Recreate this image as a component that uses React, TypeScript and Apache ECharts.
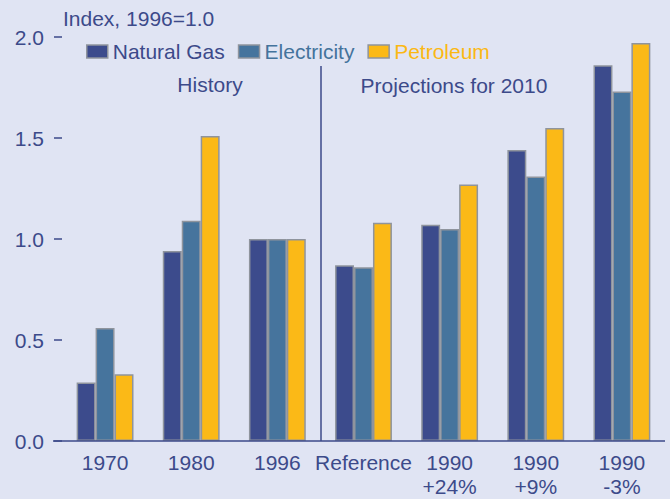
import React, { useEffect, useRef } from "react";
import * as echarts from "echarts";

const categories = ["1970", "1980", "1996", "Reference", "1990\n+24%", "1990\n+9%", "1990\n-3%"];
const naturalGas = [0.29, 0.94, 1.0, 0.87, 1.07, 1.44, 1.86];
const electricity = [0.56, 1.09, 1.0, 0.86, 1.05, 1.31, 1.73];
const petroleum = [0.33, 1.51, 1.0, 1.08, 1.27, 1.55, 1.97];
const seriesNames = ["Natural Gas", "Electricity", "Petroleum"];
const seriesColors = ["#3c4b8c", "#46749d", "#fbb917"];
const legendTextColors = ["#3c4a8a", "#44739c", "#fbb814"];

const NAVY = "#3c4a8a";
const BG = "#e0e4f3";
const BORDER = "#8f949d";
const FONT = "'Liberation Sans', Arial, sans-serif";

export default function App() {
  const ref = useRef<HTMLDivElement>(null);
  useEffect(() => {
    if (!ref.current) return;
    const chart = echarts.init(ref.current, null, { renderer: "svg" });
    const values = [naturalGas, electricity, petroleum];
    chart.setOption({
      animation: false,
      backgroundColor: BG,
      textStyle: { fontFamily: FONT },
      grid: { left: 62, right: 5, top: 37, bottom: 58, containLabel: false, outerBoundsMode: "none" },
      legend: {
        left: 86,
        top: 41,
        padding: 0,
        itemWidth: 21,
        itemHeight: 13,
        itemGap: 13,
        icon: "rect",
        selectedMode: false,
        data: seriesNames.map((n, i) => ({
          name: n,
          textStyle: { color: legendTextColors[i], fontSize: 21, fontFamily: FONT },
          itemStyle: { color: seriesColors[i], borderColor: BORDER, borderWidth: 1.5 },
        })),
      },
      xAxis: {
        type: "category",
        data: categories,
        axisLine: { show: false },
        axisTick: { show: false },
        axisLabel: {
          color: NAVY,
          fontSize: 21,
          fontFamily: FONT,
          margin: 9,
          lineHeight: 24,
          interval: 0,
        },
      },
      yAxis: {
        type: "value",
        min: 0,
        max: 2,
        interval: 0.5,
        splitLine: { show: false },
        axisLine: { show: false },
        axisTick: { show: true, length: 8, lineStyle: { color: NAVY, width: 1.5 } },
        axisLabel: {
          color: NAVY,
          fontSize: 21,
          fontFamily: FONT,
          margin: 18,
          formatter: (v: number) => v.toFixed(1),
        },
      },
      series: seriesNames.map((n, i) => ({
        name: n,
        type: "bar",
        data: values[i],
        barGap: "0%",
        barCategoryGap: "34%",
        itemStyle: { color: seriesColors[i], borderColor: BORDER, borderWidth: 1.5 },
      })),
      graphic: [
        {
          type: "line",
          shape: { x1: 53, y1: 441, x2: 665, y2: 441 },
          style: { stroke: NAVY, lineWidth: 1.5 },
          z: 10,
        },
        {
          type: "line",
          shape: { x1: 321, y1: 66, x2: 321, y2: 441 },
          style: { stroke: NAVY, lineWidth: 1.5 },
          z: 10,
        },
        {
          type: "text",
          left: 63,
          top: 8,
          style: { text: "Index, 1996=1.0", fill: NAVY, font: `21px ${FONT}` },
        },
        {
          type: "text",
          x: 210,
          y: 84,
          style: { text: "History", fill: NAVY, font: `21px ${FONT}`, align: "center", verticalAlign: "middle" },
        },
        {
          type: "text",
          x: 454,
          y: 85,
          style: { text: "Projections for 2010", fill: NAVY, font: `21px ${FONT}`, align: "center", verticalAlign: "middle" },
        },
      ],
    });
    return () => chart.dispose();
  }, []);
  return <div ref={ref} style={{ position: "fixed", left: 0, top: 0, width: 670, height: 499 }} />;
}
